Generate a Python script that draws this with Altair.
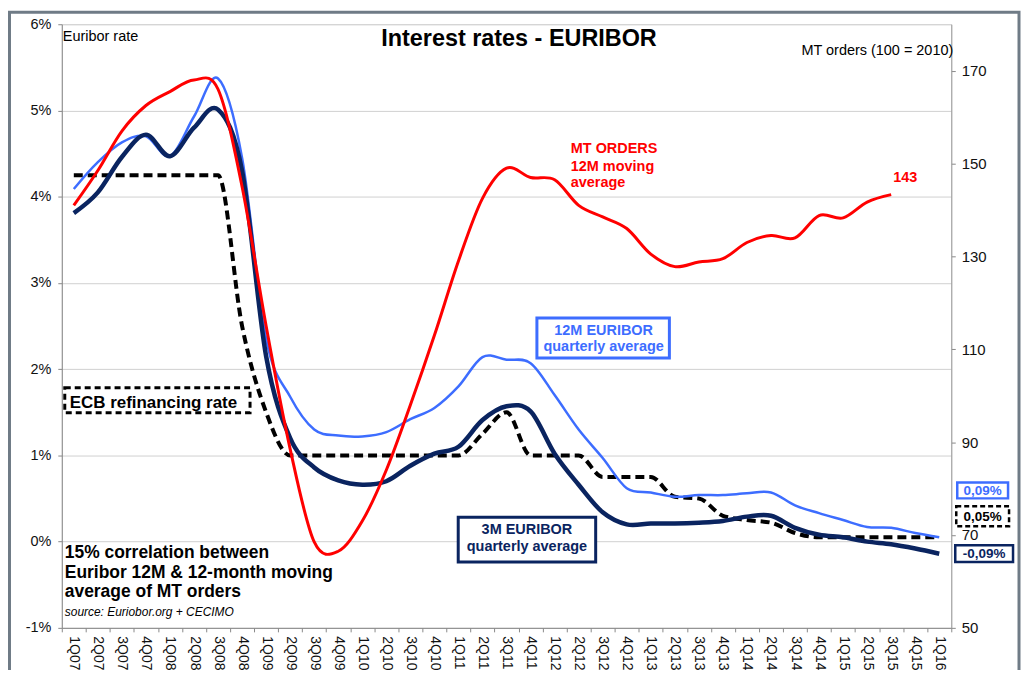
import altair as alt
import pandas as pd

quarters = ["1Q07","2Q07","3Q07","4Q07","1Q08","2Q08","3Q08","4Q08","1Q09","2Q09","3Q09","4Q09",
            "1Q10","2Q10","3Q10","4Q10","1Q11","2Q11","3Q11","4Q11","1Q12","2Q12","3Q12","4Q12",
            "1Q13","2Q13","3Q13","4Q13","1Q14","2Q14","3Q14","4Q14","1Q15","2Q15","3Q15","4Q15","1Q16"]

euribor_12m = [4.09,4.40,4.63,4.70,4.47,4.93,5.37,4.45,2.35,1.68,1.30,1.23,
               1.22,1.27,1.42,1.55,1.80,2.14,2.11,2.07,1.70,1.30,0.97,0.62,
               0.57,0.52,0.54,0.54,0.56,0.57,0.42,0.33,0.25,0.17,0.16,0.10,0.05]

euribor_3m = [3.81,4.05,4.46,4.72,4.47,4.80,5.01,4.30,2.15,1.20,0.86,0.71,
              0.66,0.70,0.88,1.02,1.10,1.41,1.57,1.51,1.02,0.66,0.34,0.20,
              0.21,0.21,0.22,0.24,0.29,0.30,0.16,0.08,0.05,0.00,-0.03,-0.08,-0.14]

ecb_rate = [4.25,4.25,4.25,4.25,4.25,4.25,4.25,2.50,1.50,1.00,1.00,1.00,
            1.00,1.00,1.00,1.00,1.00,1.25,1.50,1.00,1.00,1.00,0.75,0.75,
            0.75,0.52,0.50,0.30,0.25,0.22,0.10,0.05,0.05,0.05,0.05,0.05,0.05]

mt_orders = [141,148.5,157,162.5,165.5,168,166,145,115,88.5,68.5,66.5,
             73,84,98,113,129,142.5,149,147,146.5,141,138.5,136,
             130.5,127.8,128.8,129.5,133,134.5,134,138.8,138.3,141.7,143.3,None,None]

left_ticks = [-1, 0, 1, 2, 3, 4, 5, 6]
right_ticks = [50, 70, 90, 110, 130, 150, 170]

df = pd.DataFrame({"q": quarters, "e12": euribor_12m, "e3": euribor_3m,
                   "ecb": ecb_rate, "mt": mt_orders})

FONT = "Liberation Sans"
BLUE = "#3D6DFF"
NAVY = "#0A2460"
RED = "#FF0000"
W, H = 893, 606

x_enc = alt.X("q:N", sort=quarters, bandPosition=0.5,
              scale=alt.Scale(type="band", paddingInner=0, paddingOuter=0),
              axis=alt.Axis(title=None, labelAngle=90, labelAlign="left", labelBaseline="middle",
                            tickBand="extent", tickSize=4, tickColor="#888", domainColor="#888",
                            labelFontSize=14, labelColor="#111", labelPadding=4, grid=False))

left_scale = alt.Scale(domain=[-1, 6], nice=False, zero=False)
left_axis = alt.Axis(title=None, values=left_ticks, labelExpr="datum.value + '%'", orient="left",
                     grid=True, gridColor="#d0d0d0", domainColor="#888", tickColor="#888",
                     tickSize=4, labelPadding=7, labelFontSize=14.5, labelColor="#111")

base = alt.Chart(df)
ecb_line = base.mark_line(color="black", strokeWidth=4, strokeDash=[9, 5],
                          interpolate="monotone").encode(
    x=x_enc, y=alt.Y("ecb:Q", scale=left_scale, axis=left_axis))
e12_line = base.mark_line(color=BLUE, strokeWidth=2.5, interpolate="cardinal").encode(
    x=x_enc, y=alt.Y("e12:Q", scale=left_scale, axis=left_axis))
e3_line = base.mark_line(color=NAVY, strokeWidth=4.5, interpolate="cardinal").encode(
    x=x_enc, y=alt.Y("e3:Q", scale=left_scale, axis=left_axis))
left = alt.layer(ecb_line, e12_line, e3_line)

right_scale = alt.Scale(domain=[50, 180], nice=False, zero=False)
right_axis = alt.Axis(title=None, values=right_ticks, orient="right", grid=False,
                      domainColor="#999", tickColor="#888", tickSize=4, labelPadding=6,
                      labelFontSize=15, labelColor="#111")
mt_line = base.mark_line(color=RED, strokeWidth=3, interpolate="cardinal").encode(
    x=x_enc, y=alt.Y("mt:Q", scale=right_scale, axis=right_axis))
last_df = pd.DataFrame({"q": ["3Q15"], "mt": [143.3], "lab": ["143"]})
mt_label = alt.Chart(last_df).mark_text(color=RED, font=FONT, fontWeight="bold", fontSize=14.5,
                                        align="left", dy=-17, dx=2).encode(
    x=x_enc, y=alt.Y("mt:Q", scale=right_scale, axis=right_axis), text="lab:N")
right = alt.layer(mt_line, mt_label)

one = alt.Data(values=[{}])


def txt(s, x, y, color="black", size=14, weight="normal", align="left", style="normal"):
    return alt.Chart(one).mark_text(text=s, color=color, font=FONT, fontSize=size,
                                    fontWeight=weight, align=align, baseline="alphabetic",
                                    fontStyle=style).encode(x=alt.value(x), y=alt.value(y))


def box(x1, x2, y1, y2, color, dash=None, width=3):
    kw = dict(fill="white", stroke=color, strokeWidth=width)
    if dash:
        kw["strokeDash"] = dash
    return alt.Chart(one).mark_rect(**kw).encode(
        x=alt.value(x1), x2=alt.value(x2), y=alt.value(y1), y2=alt.value(y2))


frame = alt.Chart(one).mark_rect(fill=None, stroke="#6f7b86", strokeWidth=3).encode(
    x=alt.value(-52.5), x2=alt.value(961), y=alt.value(-12), y2=alt.value(720))

annots = [
    frame,
    txt("Interest rates - EURIBOR", 459, 22, size=23.5, weight="bold", align="center"),
    txt("Euribor rate", 1, 17, size=14.5),
    txt("MT orders (100 = 2010)", 895, 31, size=14.5, align="right"),
    txt("MT ORDERS", 511, 129, color=RED, size=14.5, weight="bold"),
    txt("12M moving", 511, 147, color=RED, size=14.5, weight="bold"),
    txt("average", 511, 163, color=RED, size=14.5, weight="bold"),
    box(477, 610, 295, 335, BLUE),
    txt("12M EURIBOR", 544, 312, color=BLUE, size=14.5, weight="bold", align="center"),
    txt("quarterly average", 544, 328, color=BLUE, size=14.5, weight="bold", align="center"),
    box(398, 536, 495, 540, NAVY),
    txt("3M EURIBOR", 467, 512, color=NAVY, size=14.5, weight="bold", align="center"),
    txt("quarterly average", 467, 529, color=NAVY, size=14.5, weight="bold", align="center"),
    box(3, 189, 365, 390, "black", dash=[6, 4]),
    txt("ECB refinancing rate", 8, 385, size=17, weight="bold"),
    txt("15% correlation between", 3, 536, size=17.5, weight="bold"),
    txt("Euribor 12M & 12-month moving", 3, 556, size=17.5, weight="bold"),
    txt("average of MT orders", 3, 575, size=17.5, weight="bold"),
    txt("source:  Euriobor.org +  CECIMO", 3, 594, size=12, style="italic"),
    box(899, 950, 460, 476, BLUE, width=2.5),
    txt("0,09%", 924.5, 473, color=BLUE, size=13.5, weight="bold", align="center"),
    box(898, 951, 484, 504, "black", dash=[5, 3], width=2.5),
    txt("0,05%", 924.5, 499, size=13.5, weight="bold", align="center"),
    box(897, 955, 523, 540, NAVY, width=2.5),
    txt("-0,09%", 926, 536, color=NAVY, size=13.5, weight="bold", align="center"),
]

chart = alt.layer(left, right, *annots).resolve_scale(y="independent").properties(
    width=W, height=H,
    autosize=alt.AutoSizeParams(type="none"),
    padding={"left": 54, "top": 15, "right": 70, "bottom": 41},
).configure_view(stroke="#c0c0c0").configure(font=FONT, background="white")

chart.save("out.html", embed_options={"renderer": "svg", "actions": False})
